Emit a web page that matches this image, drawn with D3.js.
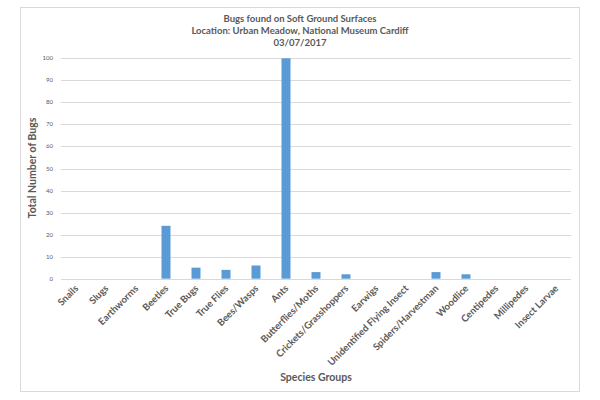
<!DOCTYPE html>
<html lang="en">
<head>
  <meta charset="utf-8">
  <title>Bugs found on Soft Ground Surfaces</title>
  <script src="https://d3js.org/d3.v7.min.js"></script>
  <style>
    body { margin: 0; background: #fff; }
    text { font-family: Lato, "Open Sans", sans-serif; fill: #595959; }
  </style>
</head>
<body>
  <script>
    var w = 600, h = 400;

    // data
    var species = ["Snails", "Slugs", "Earthworms", "Beetles", "True Bugs", "True Flies",
      "Bees/Wasps", "Ants", "Butterflies/Moths", "Crickets/Grasshoppers", "Earwigs",
      "Unidentified Flying Insect", "Spiders/Harvestman", "Woodlice", "Centipedes",
      "Millipedes", "Insect Larvae"];
    var counts = [0, 0, 0, 24, 5, 4, 6, 100, 3, 2, 0, 0, 3, 2, 0, 0, 0];
    var yTicks = [0, 10, 20, 30, 40, 50, 60, 70, 80, 90, 100];
    var titleLines = ["Bugs found on Soft Ground Surfaces",
      "Location: Urban Meadow, National Museum Cardiff", "03/07/2017"];

    var svg = d3.select("body").append("svg")
      .attr("width", w)
      .attr("height", h);

    // chart frame
    svg.append("rect")
      .attr("x", 20.5).attr("y", 7.5)
      .attr("width", 559).attr("height", 384)
      .attr("fill", "#fff")
      .attr("stroke", "#d9d9d9");

    var x = d3.scaleBand().domain(species).range([61, 571]).paddingInner(0.7).paddingOuter(0.35);
    var y = d3.scaleLinear().domain([0, 100]).range([278.7, 58.3]);

    // gridlines
    svg.append("g")
      .selectAll("line")
      .data(yTicks)
      .enter().append("line")
      .attr("x1", 61).attr("x2", 571)
      .attr("y1", function(d) { return Math.round(y(d)) + 0.5; })
      .attr("y2", function(d) { return Math.round(y(d)) + 0.5; })
      .attr("stroke", "#d9d9d9");

    // y tick labels
    svg.append("g")
      .selectAll("text")
      .data(yTicks)
      .enter().append("text")
      .attr("x", 53)
      .attr("y", function(d) { return y(d) + 2; })
      .attr("text-anchor", "end")
      .style("font-size", "6px")
      .text(function(d) { return d; });

    // bars
    svg.append("g")
      .selectAll("rect")
      .data(counts)
      .enter().append("rect")
      .attr("x", function(d, i) { return x(species[i]); })
      .attr("y", function(d) { return y(d); })
      .attr("width", x.bandwidth())
      .attr("height", function(d) { return y(0) - y(d); })
      .attr("fill", "#5b9bd5");

    // x labels
    svg.append("g")
      .selectAll("text")
      .data(species)
      .enter().append("text")
      .attr("transform", function(d) {
        return "translate(" + (x(d) + x.bandwidth() / 2 + 3) + ",289) rotate(-45)";
      })
      .attr("text-anchor", "end")
      .style("font-size", "9.6px")
      .style("font-weight", "bold")
      .text(function(d) { return d; });

    // titles
    svg.append("g")
      .selectAll("text")
      .data(titleLines)
      .enter().append("text")
      .attr("x", 300)
      .attr("y", function(d, i) { return 22 + i * 12; })
      .attr("text-anchor", "middle")
      .style("font-size", "9.5px")
      .style("font-weight", "bold")
      .text(function(d) { return d; });

    svg.append("text")
      .attr("transform", "translate(36,168) rotate(-90)")
      .attr("text-anchor", "middle")
      .style("font-size", "10.5px")
      .style("font-weight", "bold")
      .text("Total Number of Bugs");

    svg.append("text")
      .attr("x", 316).attr("y", 381)
      .attr("text-anchor", "middle")
      .style("font-size", "10.5px")
      .style("font-weight", "bold")
      .text("Species Groups");
  </script>
</body>
</html>
